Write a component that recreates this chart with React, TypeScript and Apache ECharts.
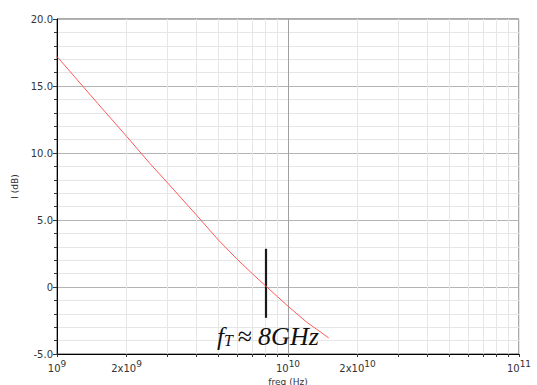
import React, { useEffect, useRef } from "react";
import * as echarts from "echarts";

// frequency (Hz) and current gain (dB)
const freqHz = [1e9, 1.5e9, 2e9, 2.5e9, 3e9, 4e9, 5e9, 6e9, 7e9, 8e9, 9e9, 1e10, 1.2e10, 1.5e10];
const gainDb = [17.2, 13.7, 11.25, 9.3, 7.8, 5.4, 3.5, 2.1, 1.0, 0.08, -0.72, -1.43, -2.6, -3.8];

const decades = [9, 10];
const minorMultipliers = [1, 2, 3, 4, 5, 6, 7, 8, 9];
const labelMultipliers = [1, 2];
const fTHz = 8e9;
const fTMarker = [2.85, -2.3];

const tickValues: number[] = [];
decades.forEach((d) => minorMultipliers.forEach((m) => tickValues.push(d + Math.log10(m))));
tickValues.push(11);
const labelValues: number[] = [];
decades.forEach((d) => labelMultipliers.forEach((m) => labelValues.push(d + Math.log10(m))));
labelValues.push(11);

export default function App() {
  const ref = useRef<HTMLDivElement>(null);
  useEffect(() => {
    const chart = echarts.init(ref.current!, null, { renderer: "svg" });
    const lineData = freqHz.map((f, i) => [Math.log10(f), gainDb[i]]);
    chart.setOption({
      animation: false,
      backgroundColor: "#fff",
      grid: {
        left: 57, top: 19, right: 18, bottom: 31,
        show: true, borderColor: "#555", borderWidth: 1,
        containLabel: false, outerBoundsMode: "none",
      },
      xAxis: {
        type: "value",
        min: 9,
        max: 11,
        name: "freq (Hz)",
        nameLocation: "middle",
        nameGap: 23,
        nameMoveOverlap: false,
        nameTextStyle: { fontFamily: "DejaVu Sans", fontSize: 9, color: "#333" },
        axisLine: { onZero: false, lineStyle: { color: "#000", width: 1 } },
        axisTick: { show: true, inside: false, length: 3, customValues: tickValues, lineStyle: { color: "#333" } },
        splitLine: { show: true, lineStyle: { color: "#e6e6e6", width: 1 } },
        axisLabel: {
          customValues: labelValues,
          margin: 3,
          formatter: (v: number) => {
            const e = Math.floor(v + 1e-9);
            const m = Math.round(Math.pow(10, v - e));
            return m === 1 ? `{b|10}{s|${e}}` : `{b|${m}x10}{s|${e}}`;
          },
          rich: {
            b: { fontFamily: "DejaVu Sans", fontSize: 10, color: "#333", padding: [6, 0, 0, 0] },
            s: { fontFamily: "DejaVu Sans", fontSize: 9, color: "#333", padding: [0, 0, 2, 0] },
          },
        },
      },
      yAxis: {
        type: "value",
        min: -5,
        max: 20,
        interval: 5,
        name: "I (dB)",
        nameLocation: "middle",
        nameGap: 37,
        nameRotate: 90,
        nameTextStyle: { fontFamily: "DejaVu Sans", fontSize: 9, color: "#333" },
        axisLine: { show: true, onZero: false, lineStyle: { color: "#000", width: 1 } },
        axisTick: { show: true, inside: false, length: 4, lineStyle: { color: "#333" } },
        minorTick: { show: true, splitNumber: 5, length: 3, lineStyle: { color: "#333" } },
        minorSplitLine: { show: true, lineStyle: { color: "#e6e6e6", width: 1 } },
        splitLine: { show: true, lineStyle: { color: "#b4b4b4", width: 1.2 } },
        axisLabel: {
          fontFamily: "DejaVu Sans",
          fontSize: 10,
          color: "#333",
          margin: 4,
          formatter: (v: number) => (v === 0 ? "0" : v.toFixed(1)),
        },
      },
      series: [
        {
          type: "line",
          data: lineData,
          showSymbol: false,
          symbol: "none",
          lineStyle: { color: "#ff5a5a", width: 1 },
          z: 5,
          markLine: {
            silent: true,
            symbol: "none",
            label: { show: false },
            lineStyle: { color: "#a0a0a0", width: 1, type: "solid" },
            data: [{ xAxis: 10 }],
            z: 1,
          },
        },
        {
          type: "line",
          data: [],
          markLine: {
            silent: true,
            symbol: "none",
            label: { show: false },
            lineStyle: { color: "#1a1a1a", width: 2.2, type: "solid" },
            data: [
              [
                { coord: [Math.log10(fTHz), fTMarker[0]] },
                { coord: [Math.log10(fTHz), fTMarker[1]] },
              ],
            ],
          },
          z: 6,
        },
      ],
      graphic: [
        {
          type: "text",
          left: 217,
          top: 323,
          z: 10,
          style: {
            text: "{f|f}{t|T}{a|≈}{g|8GHz}",
            rich: {
              f: { fontFamily: "Liberation Serif", fontStyle: "italic", fontSize: 25, fill: "#111" },
              t: { fontFamily: "Liberation Serif", fontStyle: "italic", fontSize: 16, fill: "#111", padding: [9, 1, 0, 0] },
              a: { fontFamily: "Liberation Serif", fontSize: 26, fill: "#111", padding: [0, 6, 0, 4] },
              g: { fontFamily: "Liberation Serif", fontStyle: "italic", fontSize: 26, fill: "#111" },
            },
          },
        },
      ],
    });
    return () => chart.dispose();
  }, []);
  return <div ref={ref} style={{ position: "absolute", left: 0, top: 0, width: 537, height: 385 }} />;
}
